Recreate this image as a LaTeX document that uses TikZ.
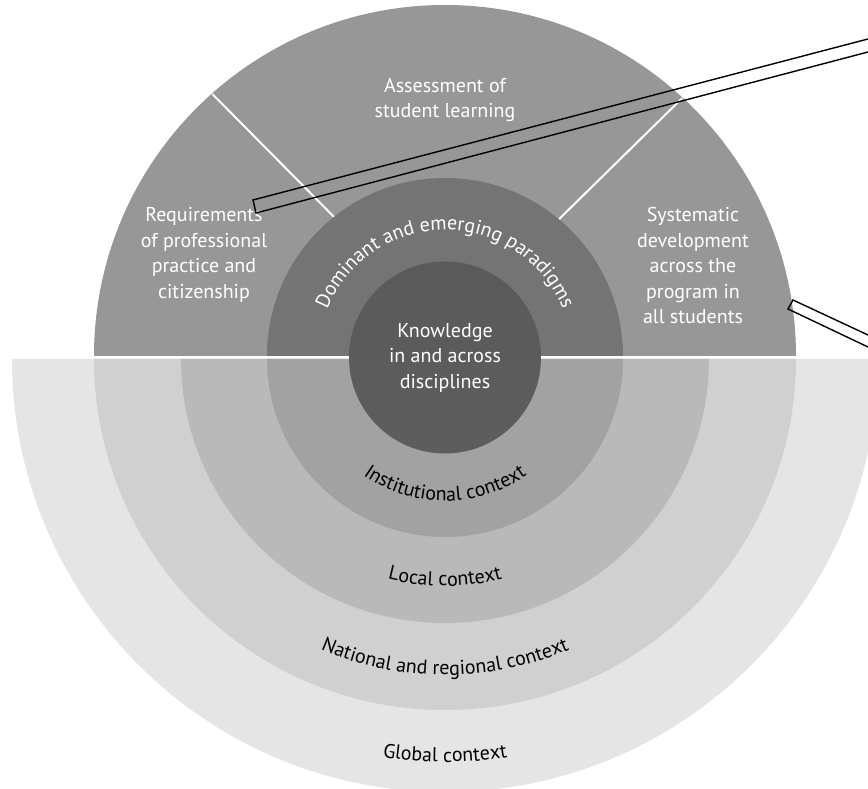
\documentclass[tikz,border=0pt]{standalone}
\usepackage{fontspec}
\setmainfont{PT Sans}
\usetikzlibrary{decorations.text}

\definecolor{topsector}{HTML}{979797}
\definecolor{paradigm}{HTML}{747474}
\definecolor{institutional}{HTML}{A2A2A2}
\definecolor{local}{HTML}{B9B9B9}
\definecolor{national}{HTML}{D0D0D0}
\definecolor{global}{HTML}{E5E5E5}
\definecolor{coretop}{HTML}{5A5A5A}
\definecolor{coremid}{HTML}{767676}
\definecolor{corebot}{HTML}{5D5D5D}

\def\textsize{\fontsize{20}{25.5}\selectfont}

\begin{document}
\begin{tikzpicture}[x=1pt,y=1pt]
		\tikzstyle{sector text}=[text=white, align=center, font=\textsize]
		\tikzstyle{ring text}=[decorate, decoration={text along path, text align=center}]
		\tikzstyle{divider}=[draw=white, line width=2pt]
		\tikzstyle{bar}=[draw=black, line width=1.4pt, line join=miter]
		
		\useasboundingbox (-445,-432) rectangle (423,357);
		
		% Draw the lower half: the contexts
		\fill[global] (-433,-2) arc[start angle=180, end angle=360, radius=433] -- cycle;
		\fill[national] (-351,-2) arc[start angle=180, end angle=360, radius=351] -- cycle;
		\fill[local] (-264,-2) arc[start angle=180, end angle=360, radius=264] -- cycle;
		\fill[institutional] (-178,-2) arc[start angle=180, end angle=360, radius=178] -- cycle;
		
		% Draw the upper half: the sectors and the paradigms
		\fill[topsector] (-351,1) arc[start angle=180, end angle=0, radius=351] -- cycle;
		\fill[paradigm] (-178,1) arc[start angle=180, end angle=0, radius=178] -- cycle;
		
		% Borders between the sectors
		\coordinate (L-out) at (131.5:351);
		\coordinate (L-in) at (128.4:179);
		\coordinate (R-out) at (47.5:351);
		\coordinate (R-in) at (50.4:179);
		\path[divider] (L-out) -- (L-in);
		\path[divider] (R-out) -- (R-in);
		
		% The core
		\shade[top color=coretop, middle color=coremid, bottom color=corebot] (0,-0.5) circle (96);
		
		% Texts of the sectors
		\node[sector text] (assess) at (0,257) {Assessment of\\student learning};
		\node[sector text] (require) at (-241,102) {Requirements\\of professional\\practice and\\citizenship};
		\node[sector text] (system) at (248,91) {Systematic\\development\\across the\\program in\\all students};
		\node[sector text] (core) at (0,-1) {Knowledge\\in and across\\disciplines};
		
		% Texts along the rings
		\path[ring text, decoration={text={|\textsize\color{white}|Dominant and emerging paradigms}}]
		(180:127) arc[start angle=180, end angle=0, radius=127];
		\path[ring text, decoration={text={|\textsize|Institutional context}}]
		(-142,-2) arc[start angle=180, end angle=360, radius=142];
		\path[ring text, decoration={text={|\textsize|Local context}}]
		(-227,-2) arc[start angle=180, end angle=360, radius=227];
		\path[ring text, decoration={text={|\textsize|National and regional context}}]
		(-316,-2) arc[start angle=180, end angle=360, radius=316];
		\path[ring text, decoration={text={|\textsize|Global context}}]
		(-403,-2) arc[start angle=180, end angle=360, radius=403];
		
		% The two bars
		\coordinate (B1-a) at (-192,157);
		\coordinate (B1-b) at (-189,144);
		\coordinate (B1-c) at (423,318);
		\coordinate (B1-d) at (423,305);
		\coordinate (B2-a) at (348,57);
		\coordinate (B2-b) at (343,48);
		\coordinate (B2-c) at (423,22);
		\coordinate (B2-d) at (423,10);
		\path[bar] (B1-c) -- (B1-a) -- (B1-b) -- (B1-d);
		\path[bar] (B2-c) -- (B2-a) -- (B2-b) -- (B2-d);
		\end{tikzpicture}
\end{document}
